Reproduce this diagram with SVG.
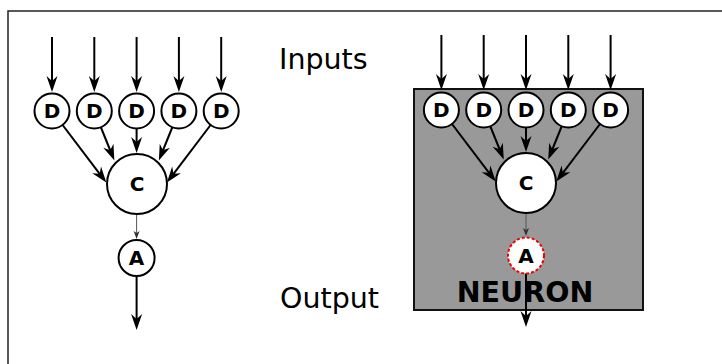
<svg xmlns="http://www.w3.org/2000/svg" width="722" height="364" viewBox="0 0 722 364">
<style>
.frame{fill:none;stroke:#222;stroke-width:1.5}
.node{fill:#fff;stroke:#000;stroke-width:2}
.dashed{fill:#fff;stroke:#e00;stroke-width:2;stroke-dasharray:3 2}
.lbl{font-family:"DejaVu Sans",sans-serif;font-weight:bold;font-size:20px;text-anchor:middle;fill:#000}
.big{font-family:"DejaVu Sans",sans-serif;font-size:28.5px;fill:#000}
.neuron{font-family:"DejaVu Sans",sans-serif;font-weight:bold;font-size:28.5px;text-anchor:middle;fill:#000}
.arr{fill:none;stroke:#000;stroke-width:2;marker-end:url(#ah)}
.thin{fill:none;stroke:#555;stroke-width:1;marker-end:url(#ahs)}
</style>
<defs>
<marker id="ah" markerUnits="userSpaceOnUse" viewBox="-12 -7 19 14" refX="0" refY="0" markerWidth="19" markerHeight="14" orient="auto">
<path d="M6,0 L-10,-5.5 L-5,0 L-10,5.5 Z" fill="#000"/>
</marker>
<marker id="ahs" markerUnits="userSpaceOnUse" viewBox="-6 -4 10 8" refX="0" refY="0" markerWidth="10" markerHeight="8" orient="auto">
<path d="M3,0 L-5,-3 L-3,0 L-5,3 Z" fill="#333"/>
</marker>
</defs>
<rect width="722" height="364" fill="#fff"/>
<path class="frame" d="M8,364 V11 H722"/>
<g id="neuron-box">
<rect x="414" y="89" width="229" height="221" fill="#999" stroke="#111" stroke-width="2"/>
<text class="neuron" x="525" y="302">NEURON</text>
</g>
<g id="label-inputs"><text class="big" x="279" y="69">Inputs</text></g>
<g id="label-output"><text class="big" x="280" y="308">Output</text></g>
<g id="connectors">
<path class="arr" d="M52,37 V86"/>
<path class="arr" d="M94.3,37 V86"/>
<path class="arr" d="M136.6,37 V86"/>
<path class="arr" d="M178.9,37 V86"/>
<path class="arr" d="M221.2,37 V86"/>
<path class="arr" d="M52,111 L102.7,177.8"/>
<path class="arr" d="M94.3,111 L112.1,155"/>
<path class="arr" d="M136.6,111 V147"/>
<path class="arr" d="M178.9,111 L161.1,155"/>
<path class="arr" d="M221.2,111 L170.5,177.8"/>
<path class="thin" d="M136.6,214 V236"/>
<path class="arr" d="M136.6,276 V324"/>
<path class="arr" d="M441.4,35 V84"/>
<path class="arr" d="M483.7,35 V84"/>
<path class="arr" d="M526,35 V84"/>
<path class="arr" d="M568.3,35 V84"/>
<path class="arr" d="M610.6,35 V84"/>
<path class="arr" d="M441.4,110 L492.1,176.8"/>
<path class="arr" d="M483.7,110 L501.5,154"/>
<path class="arr" d="M526,110 V146"/>
<path class="arr" d="M568.3,110 L550.5,154"/>
<path class="arr" d="M610.6,110 L559.9,176.8"/>
<path class="thin" d="M526,213 V233"/>
<path class="arr" d="M526,273 V321"/>
</g>
<g id="L-D1"><circle class="node" cx="52" cy="111" r="17.5"/><text class="lbl" x="52" y="118">D</text></g>
<g id="L-D2"><circle class="node" cx="94.3" cy="111" r="17.5"/><text class="lbl" x="94.3" y="118">D</text></g>
<g id="L-D3"><circle class="node" cx="136.6" cy="111" r="17.5"/><text class="lbl" x="136.6" y="118">D</text></g>
<g id="L-D4"><circle class="node" cx="178.9" cy="111" r="17.5"/><text class="lbl" x="178.9" y="118">D</text></g>
<g id="L-D5"><circle class="node" cx="221.2" cy="111" r="17.5"/><text class="lbl" x="221.2" y="118">D</text></g>
<g id="L-C"><circle class="node" cx="137" cy="184" r="30"/><text class="lbl" x="137" y="191">C</text></g>
<g id="L-A"><circle class="node" cx="136.6" cy="258" r="18"/><text class="lbl" x="136.6" y="265">A</text></g>
<g id="R-D1"><circle class="node" cx="441.4" cy="110" r="17.5"/><text class="lbl" x="441.4" y="117">D</text></g>
<g id="R-D2"><circle class="node" cx="483.7" cy="110" r="17.5"/><text class="lbl" x="483.7" y="117">D</text></g>
<g id="R-D3"><circle class="node" cx="526" cy="110" r="17.5"/><text class="lbl" x="526" y="117">D</text></g>
<g id="R-D4"><circle class="node" cx="568.3" cy="110" r="17.5"/><text class="lbl" x="568.3" y="117">D</text></g>
<g id="R-D5"><circle class="node" cx="610.6" cy="110" r="17.5"/><text class="lbl" x="610.6" y="117">D</text></g>
<g id="R-C"><circle class="node" cx="526" cy="183" r="30"/><text class="lbl" x="526" y="190">C</text></g>
<g id="R-A"><circle class="dashed" cx="526" cy="255.5" r="18"/><text class="lbl" x="526" y="262.5">A</text></g>
</svg>
